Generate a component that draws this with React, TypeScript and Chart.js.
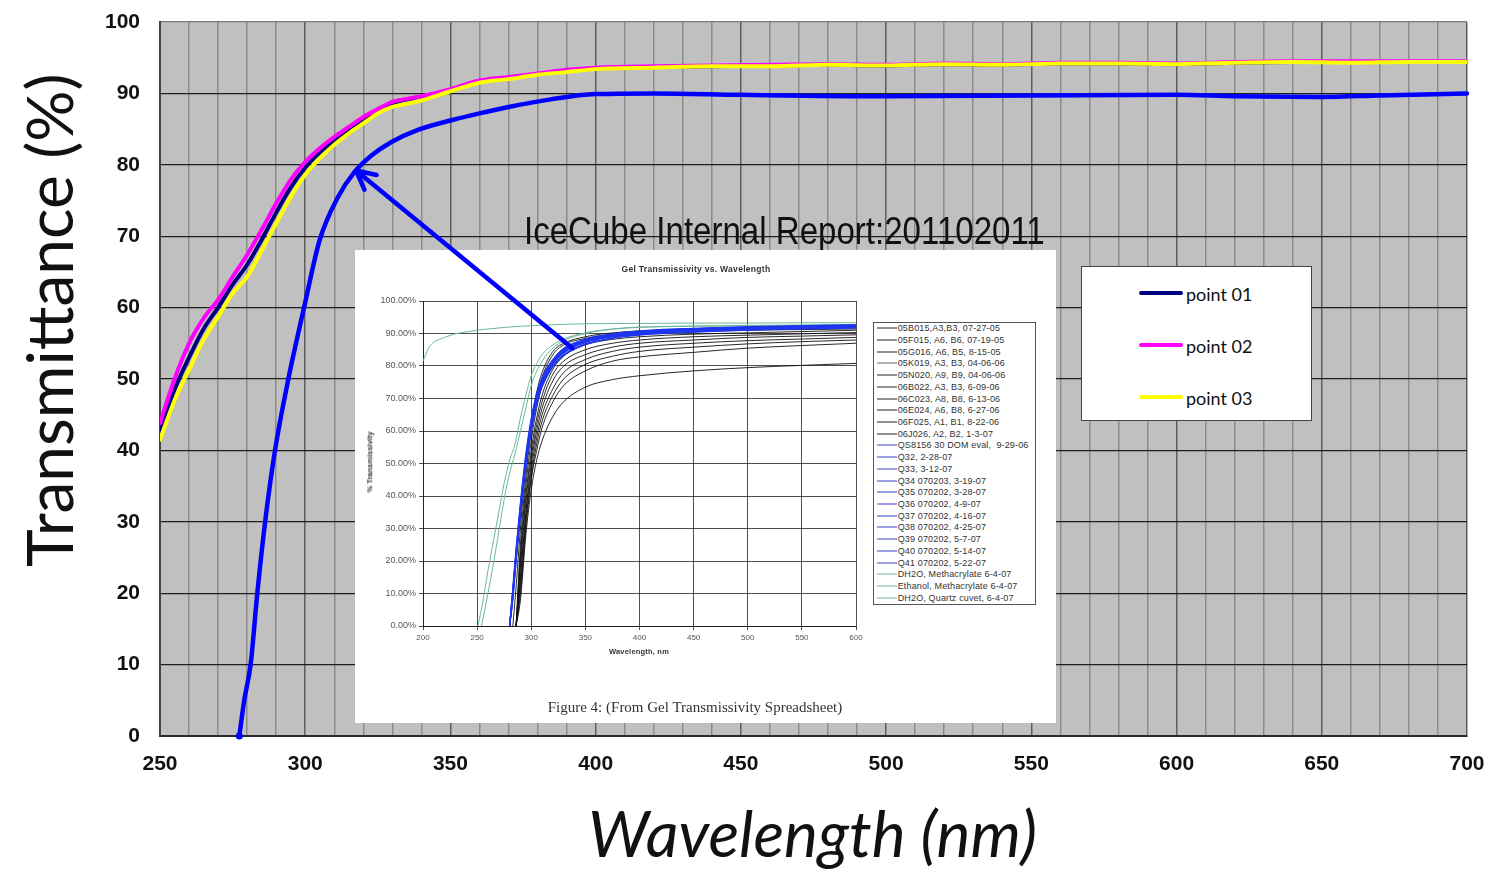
import React, { useEffect, useRef } from 'react';
import { Chart, registerables } from 'chart.js';

Chart.register(...registerables);

const W = 1511;
const H = 872;

// ---------------- main chart data ----------------
const WL_POINTS = [250, 255, 260, 265, 270, 275, 280, 285, 290, 295, 300, 305, 310, 315, 320, 325, 330, 340, 350, 360, 370, 380, 390, 400, 420, 440, 460, 480, 500, 520, 540, 560, 580, 600, 620, 640, 660, 680, 700];
const T_POINT01 = [42.7, 48.5, 53.0, 57.0, 60.0, 63.2, 66.0, 69.5, 73.3, 76.8, 79.6, 81.7, 83.4, 84.9, 86.3, 87.5, 88.5, 89.3, 90.4, 91.6, 92.1, 92.7, 93.1, 93.5, 93.7, 93.8, 93.9, 94.0, 93.9, 94.1, 94.0, 94.2, 94.2, 94.1, 94.3, 94.4, 94.4, 94.4, 94.4];
const T_POINT02 = [43.8, 50.0, 55.0, 58.5, 61.1, 64.3, 67.4, 70.9, 74.6, 77.9, 80.4, 82.3, 83.9, 85.3, 86.7, 87.8, 88.8, 89.6, 90.6, 91.8, 92.3, 92.8, 93.3, 93.6, 93.8, 93.9, 94.0, 94.1, 94.0, 94.2, 94.1, 94.3, 94.3, 94.2, 94.4, 94.5, 94.5, 94.5, 94.5];
const T_POINT03 = [41.5, 47.0, 51.3, 55.5, 58.7, 62.0, 64.3, 68.0, 71.8, 75.5, 78.6, 80.9, 82.8, 84.4, 85.8, 87.2, 88.1, 89.0, 90.3, 91.5, 92.0, 92.6, 93.0, 93.4, 93.6, 93.8, 93.8, 94.0, 93.9, 94.1, 94.0, 94.2, 94.2, 94.1, 94.3, 94.4, 94.3, 94.4, 94.4];
const WL_GEL = [277.3, 279, 281.2, 283.5, 286.2, 289.6, 294.2, 299.6, 305, 311.3, 317, 322.8, 329.7, 338.8, 350, 360, 370, 385, 400, 420, 450, 500, 550, 600, 620, 650, 670, 700];
const T_GEL = [0, 5, 10, 20, 30, 40, 50, 60, 69.5, 75.5, 79, 81.3, 83.2, 84.9, 86.2, 87.2, 88.1, 89.2, 89.9, 90.0, 89.8, 89.6, 89.7, 89.8, 89.6, 89.5, 89.7, 90.0];
const X_RANGE = [250, 700];
const Y_RANGE = [0, 100];
const ARROW_FROM = [392, 54.3];
const ARROW_TO = [317.5, 79.2];
const LEGEND_LABELS = ['point 01', 'point 02', 'point 03'];
const LEGEND_COLORS = ['#000080', '#ff00ff', '#ffff00'];

// ---------------- inset (report figure) data ----------------
const INSET_WL = [280, 283, 286, 290, 295, 300, 305, 310, 320, 330, 350, 375, 400, 450, 500, 550, 600];
const S_05B015 = [null, 0, 12, 30, 50, 63, 72, 78, 84.5, 87, 89, 90.2, 90.8, 91.3, 91.7, 92, 92.2];
const S_05F015 = [null, null, 0, 25, 46, 60, 70, 76.5, 83.5, 86.5, 88.5, 89.8, 90.4, 91, 91.4, 91.6, 91.8];
const S_05G016 = [null, null, 0, 22, 43, 57, 67, 74, 81.5, 85, 87.5, 89, 89.8, 90.5, 91, 91.2, 91.4];
const S_05K019 = [null, null, 0, 20, 40, 54, 64, 71, 79, 83, 86.5, 88.2, 89, 89.8, 90.2, 90.6, 91];
const S_05N020 = [null, null, 0, 18, 38, 52, 62, 69, 77.5, 81.5, 85, 87, 88, 89, 89.5, 89.9, 90.3];
const S_06B022 = [null, null, 0, 15, 35, 50, 60, 67, 75.5, 80, 83.5, 85.8, 87, 88, 88.8, 89.2, 89.6];
const S_06C023 = [null, null, 0, 14, 34, 48, 58, 65, 73, 78, 82, 84.5, 85.8, 87, 87.8, 88.3, 88.8];
const S_06E024 = [null, null, 0, 12, 32, 46, 56, 63, 71, 76, 80.5, 83, 84.5, 85.8, 86.8, 87.5, 88];
const S_06F025 = [null, null, 0, 10, 30, 45, 54, 61, 69, 74, 78.5, 81.5, 82.8, 84.2, 85.5, 86.3, 87];
const S_06J026 = [null, null, 0, 8, 28, 42, 51, 57, 64.5, 69, 73.5, 75.8, 77, 78.5, 79.5, 80.2, 80.8];
const S_QS8156 = [0, 10, 22, 36, 51, 62, 70, 75, 81, 84.5, 87.6, 89.3, 90.2, 91, 91.5, 91.8, 92.1];
const S_Q32 = [0, 9, 21, 35, 50, 61, 69.5, 74.5, 80.5, 84, 87.2, 89, 89.9, 90.8, 91.3, 91.6, 91.9];
const S_Q33 = [0, 11, 23, 37, 52, 63, 70.5, 75.5, 81.5, 85, 88, 89.6, 90.5, 91.3, 91.8, 92.1, 92.4];
const S_Q34 = [0, 8, 20, 34, 49, 60, 68.5, 74, 80, 83.5, 86.8, 88.7, 89.7, 90.6, 91.1, 91.5, 91.8];
const S_Q35 = [0, 10, 22, 36, 51, 62, 70, 75.5, 81.5, 85, 88, 89.6, 90.6, 91.5, 92, 92.3, 92.6];
const S_Q36 = [0, 9, 21, 35, 50, 61.5, 69.5, 75, 81, 84.5, 87.7, 89.4, 90.3, 91.1, 91.6, 91.9, 92.2];
const S_Q37 = [0, 12, 24, 38, 53, 64, 71.5, 76.5, 82, 85.5, 88.3, 89.9, 90.8, 91.6, 92.1, 92.4, 92.7];
const S_Q38 = [0, 10, 22, 36, 51, 62, 70, 75, 81, 84.3, 87.4, 89.1, 90, 90.9, 91.4, 91.7, 92];
const S_Q39 = [0, 11, 23, 37, 52, 63, 71, 76, 81.8, 85.2, 88.1, 89.7, 90.6, 91.4, 91.9, 92.2, 92.5];
const S_Q40 = [0, 9, 20, 34, 49, 60, 68, 73.5, 79.8, 83.3, 86.6, 88.5, 89.5, 90.4, 91, 91.4, 91.7];
const S_Q41 = [0, 10, 22, 36, 51, 62, 70, 75, 81, 84.6, 87.8, 89.5, 90.4, 91.2, 91.7, 92, 92.3];
const WL_DH2O_METH = [250.8, 255, 260, 265, 270, 275, 280, 285, 290, 295, 300, 310, 320, 330, 350, 375, 400, 450, 500, 550, 600];
const S_DH2O_METH = [0, 7, 17, 26, 35, 44, 51, 56, 64, 71, 77, 83.5, 86.5, 88.3, 90.2, 91.4, 92, 92.3, 92.5, 92.6, 92.7];
const WL_ETH_METH = [254, 260, 265, 270, 275, 280, 285, 290, 295, 300, 310, 320, 330, 350, 375, 400, 450, 500, 550, 600];
const S_ETH_METH = [0, 10, 19, 29, 39, 47, 53, 60, 67, 74, 81.5, 85.5, 87.8, 90, 91.3, 91.9, 92.2, 92.4, 92.5, 92.6];
const WL_DH2O_QUARTZ = [200, 203, 206, 210, 220, 230, 240, 250, 260, 270, 280, 290, 300, 320, 350, 400, 450, 500, 550, 600];
const S_DH2O_QUARTZ = [81.5, 84, 86, 87.3, 88.8, 89.9, 90.5, 91, 91.4, 91.7, 92, 92.2, 92.4, 92.7, 93, 93.1, 93.2, 93.2, 93.3, 93.3];

const BLACK_LABELS = ['05B015,A3,B3, 07-27-05', '05F015, A6, B6, 07-19-05', '05G016, A6, B5, 8-15-05', '05K019, A3, B3, 04-06-06', '05N020, A9, B9, 04-06-06', '06B022, A3, B3, 6-09-06', '06C023, A8, B8, 6-13-06', '06E024, A6, B8, 6-27-06', '06F025, A1, B1, 8-22-06', '06J026, A2, B2, 1-3-07'];
const BLACK_SERIES = [S_05B015, S_05F015, S_05G016, S_05K019, S_05N020, S_06B022, S_06C023, S_06E024, S_06F025, S_06J026];
const BLUE_LABELS = ['QS8156 30 DOM eval,  9-29-06', 'Q32, 2-28-07', 'Q33, 3-12-07', 'Q34 070203, 3-19-07', 'Q35 070202, 3-28-07', 'Q36 070202, 4-9-07', 'Q37 070202, 4-16-07', 'Q38 070202, 4-25-07', 'Q39 070202, 5-7-07', 'Q40 070202, 5-14-07', 'Q41 070202, 5-22-07'];
const BLUE_SERIES = [S_QS8156, S_Q32, S_Q33, S_Q34, S_Q35, S_Q36, S_Q37, S_Q38, S_Q39, S_Q40, S_Q41];
const GREEN_LABELS = ['DH2O, Methacrylate 6-4-07', 'Ethanol, Methacrylate 6-4-07', 'DH2O, Quartz cuvet, 6-4-07'];
const GREEN_WL = [WL_DH2O_METH, WL_ETH_METH, WL_DH2O_QUARTZ];
const GREEN_SERIES = [S_DH2O_METH, S_ETH_METH, S_DH2O_QUARTZ];

const INSET_BLACK = '#111111';
const INSET_BLUE = '#1e36f0';
const INSET_GREEN = '#6cb898';

const pts = (xs: number[], ys: (number | null)[]) => xs.map((x, i) => ({ x, y: ys[i] }));

const plotBg = {
  id: 'plotBg',
  beforeDraw(chart: any) {
    const { ctx, chartArea: a } = chart;
    ctx.save();
    ctx.fillStyle = '#c0c0c0';
    ctx.fillRect(a.left, a.top, a.right - a.left, a.bottom - a.top);
    ctx.restore();
  },
};

const SANS = "'Liberation Sans', Arial, Helvetica, sans-serif";
const HUMAN = "Lato, 'Open Sans', sans-serif";

export default function App() {
  const mainRef = useRef<HTMLCanvasElement>(null);
  const insetRef = useRef<HTMLCanvasElement>(null);
  const overlayRef = useRef<HTMLCanvasElement>(null);

  useEffect(() => {
    const main = new Chart(mainRef.current!, {
      type: 'line',
      data: {
        datasets: [
          { label: LEGEND_LABELS[0], data: pts(WL_POINTS, T_POINT01), borderColor: LEGEND_COLORS[0], borderWidth: 4, order: 2 },
          { label: LEGEND_LABELS[1], data: pts(WL_POINTS, T_POINT02), borderColor: LEGEND_COLORS[1], borderWidth: 4, order: 1 },
          { label: LEGEND_LABELS[2], data: pts(WL_POINTS, T_POINT03), borderColor: LEGEND_COLORS[2], borderWidth: 4, order: 0 },
          {
            label: 'gel',
            data: pts(WL_GEL, T_GEL),
            borderColor: '#0000ff',
            borderWidth: 4.5,
            order: 3,
            pointRadius: (c: any) => (c.dataIndex === 0 ? 3.5 : 0),
            pointBackgroundColor: '#0000ff',
            pointBorderWidth: 0,
            clip: false,
          } as any,
        ],
      },
      options: {
        responsive: false,
        animation: false,
        devicePixelRatio: 1,
        layout: { autoPadding: false, padding: { top: 22, right: 44, left: 0, bottom: 0 } },
        elements: {
          point: { radius: 0 },
          line: { cubicInterpolationMode: 'monotone', borderCapStyle: 'round', borderJoinStyle: 'round' },
        },
        plugins: { legend: { display: false }, tooltip: { enabled: false } },
        scales: {
          x: {
            type: 'linear',
            min: X_RANGE[0],
            max: X_RANGE[1],
            afterFit: (s: any) => { s.height = H - 736; s.paddingLeft = 0; s.paddingRight = 0; },
            ticks: {
              stepSize: 10,
              autoSkip: false,
              maxRotation: 0,
              padding: 16,
              color: '#111',
              font: { family: SANS, size: 21, weight: 'bold' },
              callback: (v: any) => (Number(v) % 50 === 0 ? String(v) : ''),
            },
            grid: {
              drawTicks: false,
              color: (c: any) => (c.tick && c.tick.value % 50 === 0 ? '#5e5e5e' : '#8c8c8c'),
              lineWidth: 1.5,
            },
            border: { color: '#2a2a2a', width: 2 },
          },
          y: {
            min: Y_RANGE[0],
            max: Y_RANGE[1],
            afterFit: (s: any) => { s.width = 160; s.paddingTop = 0; s.paddingBottom = 0; },
            ticks: {
              stepSize: 10,
              padding: 20,
              color: '#111',
              font: { family: SANS, size: 21, weight: 'bold' },
            },
            grid: {
              drawTicks: false,
              color: (c: any) => (c.tick && c.tick.value === 100 ? '#7a7a7a' : '#1e1e1e'),
              lineWidth: 1.3,
            },
            border: { color: '#444', width: 2 },
          },
        },
      } as any,
      plugins: [plotBg],
    });

    const insetDatasets: any[] = [];
    BLUE_SERIES.forEach((s, i) => insetDatasets.push({ label: BLUE_LABELS[i], data: pts(INSET_WL, s), borderColor: INSET_BLUE, borderWidth: 1.2, order: 0 }));
    BLACK_SERIES.forEach((s, i) => insetDatasets.push({ label: BLACK_LABELS[i], data: pts(INSET_WL, s), borderColor: INSET_BLACK, borderWidth: 0.9, order: 1 }));
    GREEN_SERIES.forEach((s, i) => insetDatasets.push({ label: GREEN_LABELS[i], data: pts(GREEN_WL[i], s), borderColor: INSET_GREEN, borderWidth: 1, order: 2 }));

    const inset = new Chart(insetRef.current!, {
      type: 'line',
      data: { datasets: insetDatasets },
      options: {
        responsive: false,
        animation: false,
        devicePixelRatio: 1,
        layout: { autoPadding: false, padding: { top: 51, right: 200, left: 0, bottom: 0 } },
        elements: { point: { radius: 0 }, line: { cubicInterpolationMode: 'monotone' } },
        plugins: { legend: { display: false }, tooltip: { enabled: false } },
        scales: {
          x: {
            type: 'linear',
            min: 200,
            max: 600,
            afterFit: (s: any) => { s.height = 44; s.paddingLeft = 0; s.paddingRight = 0; },
            ticks: { stepSize: 50, padding: 3, maxRotation: 0, color: '#555', font: { family: SANS, size: 8 } },
            grid: { color: '#222', lineWidth: 0.8, tickLength: 4 },
            border: { color: '#222', width: 1 },
          },
          y: {
            min: 0,
            max: 100,
            afterFit: (s: any) => { s.width = 68; s.paddingTop = 0; s.paddingBottom = 0; },
            ticks: {
              stepSize: 10,
              padding: 3,
              color: '#555',
              font: { family: SANS, size: 9 },
              callback: (v: any) => Number(v).toFixed(2) + '%',
            },
            grid: { color: '#222', lineWidth: 0.8, tickLength: 4 },
            border: { color: '#222', width: 1 },
          },
        },
      } as any,
    });

    const oc = overlayRef.current!;
    const octx = oc.getContext('2d')!;
    const xs = main.scales.x;
    const ys = main.scales.y;
    const tx = xs.getPixelForValue(ARROW_TO[0]);
    const ty = ys.getPixelForValue(ARROW_TO[1]);
    const fx = xs.getPixelForValue(ARROW_FROM[0]);
    const fy = ys.getPixelForValue(ARROW_FROM[1]);
    octx.clearRect(0, 0, W, H);
    octx.save();
    octx.strokeStyle = '#0000ff';
    octx.lineWidth = 4.5;
    octx.lineCap = 'round';
    octx.lineJoin = 'round';
    octx.beginPath();
    octx.moveTo(fx, fy);
    octx.lineTo(tx, ty);
    const ang = Math.atan2(fy - ty, fx - tx);
    for (const s of [-1, 1]) {
      octx.moveTo(tx, ty);
      octx.lineTo(tx + 21 * Math.cos(ang + s * 0.47), ty + 21 * Math.sin(ang + s * 0.47));
    }
    octx.stroke();
    octx.restore();

    return () => {
      main.destroy();
      inset.destroy();
      octx.clearRect(0, 0, W, H);
    };
  }, []);

  const legendItems = [
    ...BLACK_LABELS.map((l, i) => ({ l, c: i === 3 ? '#666' : '#222' })),
    ...BLUE_LABELS.map((l) => ({ l, c: '#3c3cc8' })),
    ...GREEN_LABELS.map((l) => ({ l, c: '#70b898' })),
  ];

  return (
    <div style={{ position: 'fixed', left: 0, top: 0, width: W, height: H, background: '#fff', overflow: 'hidden' }}>
      <canvas ref={mainRef} width={W} height={H} style={{ position: 'absolute', left: 0, top: 0, width: W, height: H }} />

      {/* axis titles */}
      <div
        style={{
          position: 'absolute', left: 0, top: 0, transformOrigin: '0 0',
          transform: 'translate(17px, 567px) rotate(-90deg)',
          fontFamily: HUMAN, fontSize: 64, lineHeight: '64px', whiteSpace: 'nowrap', color: '#111',
        }}
      >
        Transmittance (%)
      </div>
      <div
        style={{
          position: 'absolute', left: 588, top: 801,
          fontFamily: HUMAN, fontStyle: 'italic', fontSize: 64, lineHeight: '64px', whiteSpace: 'nowrap', color: '#111',
        }}
      >
        Wavelength (nm)
      </div>

      {/* report label */}
      <div
        style={{
          position: 'absolute', left: 524, top: 212, transformOrigin: '0 0', transform: 'scaleX(0.87)',
          fontFamily: SANS, fontSize: 38, lineHeight: '38px', whiteSpace: 'nowrap', color: '#111',
        }}
      >
        IceCube Internal Report:201102011
      </div>

      {/* main legend */}
      <div style={{ position: 'absolute', left: 1081, top: 266, width: 229, height: 153, border: '1.5px solid #444', background: '#fff' }}>
        {LEGEND_LABELS.map((l, i) => (
          <React.Fragment key={l}>
            <div style={{ position: 'absolute', left: 57, top: 24.3 + i * 51.8, width: 44, height: 4, borderRadius: 2, background: LEGEND_COLORS[i] }} />
            <div style={{ position: 'absolute', left: 104, top: 18 + i * 51.8, fontFamily: HUMAN, fontSize: 18, lineHeight: '18px', whiteSpace: 'nowrap', color: '#111' }}>{l}</div>
          </React.Fragment>
        ))}
      </div>

      {/* inset report figure */}
      <div style={{ position: 'absolute', left: 355, top: 250, width: 701, height: 473, background: '#fff' }}>
        <canvas ref={insetRef} width={701} height={420} style={{ position: 'absolute', left: 0, top: 0, width: 701, height: 420 }} />
        <div style={{ position: 'absolute', left: 341, top: 19, transform: 'translate(-50%, -50%)', fontFamily: SANS, fontWeight: 'bold', fontSize: 8.5, letterSpacing: 0.3, lineHeight: 1, whiteSpace: 'nowrap', color: '#333' }}>
          Gel Transmissivity vs. Wavelength
        </div>
        <div style={{ position: 'absolute', left: 15, top: 212, transform: 'translate(-50%, -50%) rotate(-90deg)', fontFamily: SANS, fontWeight: 'bold', fontSize: 7.5, lineHeight: 1, whiteSpace: 'nowrap', color: '#333' }}>
          % Transmissivity
        </div>
        <div style={{ position: 'absolute', left: 284, top: 402, transform: 'translate(-50%, -50%)', fontFamily: SANS, fontWeight: 'bold', fontSize: 7.5, letterSpacing: 0.2, lineHeight: 1, whiteSpace: 'nowrap', color: '#333' }}>
          Wavelength, nm
        </div>
        <div style={{ position: 'absolute', left: 517.7, top: 71.7, width: 161, height: 281, border: '1px solid #555', background: '#fff' }}>
          {legendItems.map((it, i) => (
            <div key={it.l} style={{ position: 'absolute', left: 3, top: 5.5 + i * 11.72, transform: 'translateY(-50%)', display: 'flex', alignItems: 'center' }}>
              <span style={{ display: 'inline-block', width: 20, height: 1, background: it.c }} />
              <span style={{ marginLeft: 1, fontFamily: SANS, fontSize: 9, letterSpacing: 0.15, lineHeight: 1, whiteSpace: 'pre', color: '#333' }}>{it.l}</span>
            </div>
          ))}
        </div>
        <div style={{ position: 'absolute', left: 340, top: 457, transform: 'translate(-50%, -50%)', fontFamily: "'Liberation Serif', 'DejaVu Serif', serif", fontSize: 15, lineHeight: 1, whiteSpace: 'nowrap', color: '#333' }}>
          Figure 4: (From Gel Transmissivity Spreadsheet)
        </div>
      </div>

      <canvas ref={overlayRef} width={W} height={H} style={{ position: 'absolute', left: 0, top: 0, width: W, height: H, pointerEvents: 'none' }} />
    </div>
  );
}
